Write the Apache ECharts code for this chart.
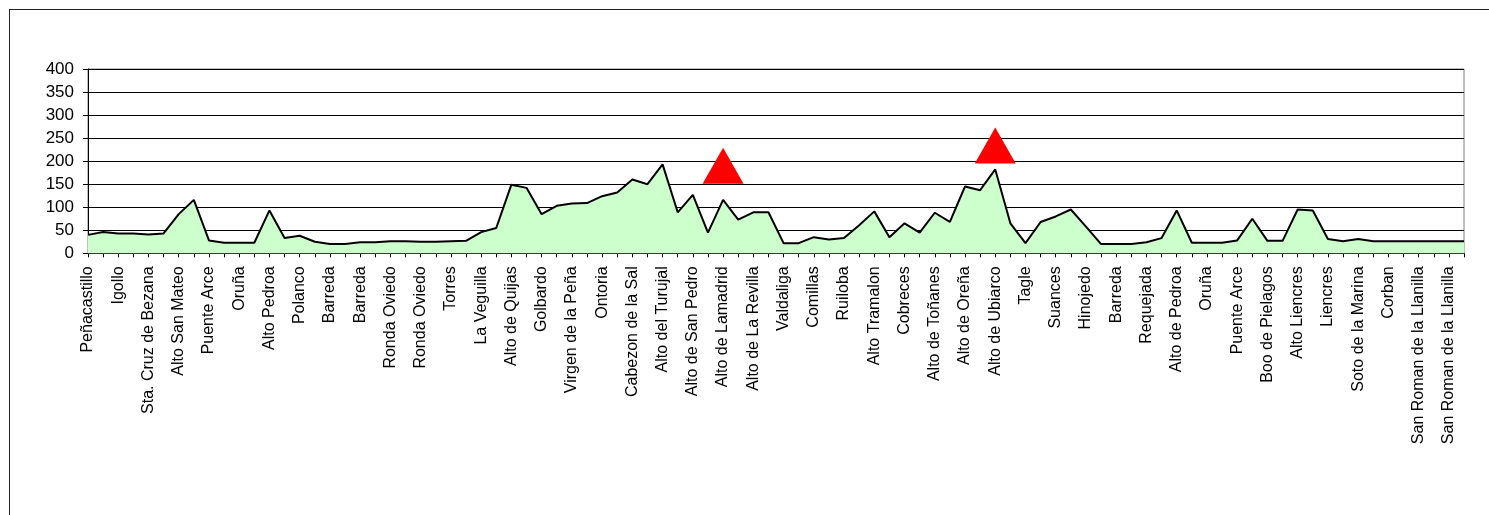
<!DOCTYPE html>
<html>
<head>
<meta charset="utf-8">
<script src="https://cdn.jsdelivr.net/npm/echarts@6/dist/echarts.min.js"></script>
<style>
  html, body { margin: 0; padding: 0; background: #fff; }
  #frame { position: absolute; left: 9px; top: 9px; width: 1500px; height: 520px;
           border-left: 1.5px solid #222; border-top: 1.5px solid #222; }
  #chart { position: absolute; left: 0; top: 0; width: 1489px; height: 515px; }
</style>
</head>
<body>
<div id="frame"></div>
<div id="chart"></div>
<script>
// Category names (only every other one is printed on the axis; unprinted ones left blank)
const categories = [
  'Peñacastillo','','Igollo','','Sta. Cruz de Bezana','','Alto San Mateo','','Puente Arce','',
  'Oruña','','Alto Pedroa','','Polanco','','Barreda','','Barreda','',
  'Ronda Oviedo','','Ronda Oviedo','','Torres','','La Veguilla','','Alto de Quijas','',
  'Golbardo','','Virgen de la Peña','','Ontoria','','Cabezon de la Sal','','Alto del Turujal','',
  'Alto de San Pedro','','Alto de Lamadrid','','Alto de La Revilla','','Valdaliga','','Comillas','',
  'Ruiloba','','Alto Tramalon','','Cobreces','','Alto de Toñanes','','Alto de Oreña','',
  'Alto de Ubiarco','','Tagle','','Suances','','Hinojedo','','Barreda','',
  'Requejada','','Alto de Pedroa','','Oruña','','Puente Arce','','Boo de Pielagos','',
  'Alto Liencres','','Liencres','','Soto de la Marina','','Corban','','San Roman de la Llanilla','',
  'San Roman de la Llanilla',''
];

// Elevation profile (m)
const elevations = [
  40,46,43,43,41,43,85,116,28,23,
  23,23,93,33,38,25,20,20,24,24,
  26,26,25,25,26,27,46,55,149,142,
  85,103,108,109,124,132,160,150,193,89,
  127,45,116,73,89,89,22,22,35,30,
  33,61,91,35,65,45,88,68,145,137,
  182,65,22,68,80,95,58,20,20,20,
  24,33,93,23,23,23,28,75,27,27,
  95,93,31,26,31,26,26,26,26,26,
  26,26
];

// Climb markers (red triangles)
const peakIndex = [42, 60];
const peakValues = [190, 234];

// Y axis ticks
const yMin = 0, yMax = 400, yStep = 50;

const peakData = categories.map(() => null);
peakIndex.forEach((idx, k) => { peakData[idx] = peakValues[k]; });

const FONT = "'Liberation Sans', Arial, sans-serif";
const chart = echarts.init(document.getElementById('chart'), null, { renderer: 'canvas' });
chart.setOption({
  animation: false,
  backgroundColor: 'transparent',
  grid: { left: 88, right: 25, top: 69, bottom: 261.7, show: true, borderColor: '#808080', borderWidth: 1, backgroundColor: 'transparent' },
  xAxis: {
    type: 'category',
    data: categories,
    boundaryGap: false,
    axisLine: { show: true, lineStyle: { color: '#000', width: 1 } },
    axisTick: { show: true, interval: 0, length: 4, lineStyle: { color: '#000' } },
    axisLabel: { interval: 1, rotate: 90, margin: 13, color: '#000', fontSize: 16, fontFamily: FONT },
    splitLine: { show: false }
  },
  yAxis: {
    type: 'value',
    min: yMin, max: yMax, interval: yStep,
    axisLine: { show: true, lineStyle: { color: '#000', width: 1 } },
    axisTick: { show: true, length: 5, lineStyle: { color: '#000' } },
    axisLabel: { margin: 14, color: '#000', fontSize: 17, fontFamily: FONT },
    splitLine: { show: true, lineStyle: { color: '#000', width: 1 } }
  },
  series: [
    {
      name: 'Altitud',
      type: 'line',
      data: elevations,
      symbol: 'none',
      lineStyle: { color: '#000', width: 2 },
      areaStyle: { color: '#CCFFCC', opacity: 1 },
      z: 2
    },
    {
      name: 'Puertos',
      type: 'scatter',
      data: peakData,
      symbol: 'triangle',
      symbolSize: [41, 36],
      itemStyle: { color: '#FF0000', opacity: 1 },
      z: 3
    }
  ]
});
</script>
</body>
</html>
